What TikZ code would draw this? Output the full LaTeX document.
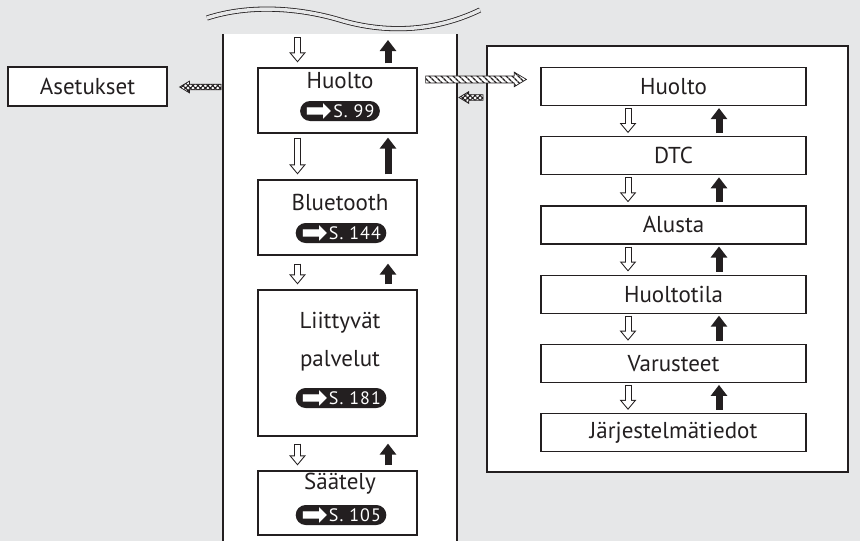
\documentclass[tikz,border=0pt]{standalone}
\usepackage{fontspec}
\setmainfont{PT Sans}
\newfontfamily\symfont{DejaVu Sans}
\newfontfamily\pillfont{PT Sans}[LetterSpace=6]
\usetikzlibrary{arrows.meta,calc,positioning,patterns.meta,shapes.misc}
\definecolor{bggray}{HTML}{E6E7E8}
\definecolor{ink}{HTML}{231F20}
\newcommand{\pg}[1]{\smash{\raisebox{-4pt}{\symfont\fontsize{32}{32}\selectfont ➡}}\kern1pt #1}
\newcommand{\hatcharrow}[4]{% style, from, to, half shaft
  \draw[draw=ink, line width=0.7pt, fill=white, postaction={#1}]
    let \p1=(#2), \p2=(#3), \n1={3.5*#4*sign(\x2-\x1)}, \n2={2.1*#4} in
    (\x1,{\y1+#4pt}) -- ({\x2-\n1},{\y1+#4pt}) -- ({\x2-\n1},{\y1+\n2}) -- (\x2,\y1)
    -- ({\x2-\n1},{\y1-\n2}) -- ({\x2-\n1},{\y1-#4pt}) -- (\x1,{\y1-#4pt}) -- cycle;}

\begin{document}
\begin{tikzpicture}[x=1pt,y=-1pt,
  box/.style={draw=ink, fill=white, line width=1.2pt, text=ink, font=\fontsize{23}{27}\selectfont},
  cbox/.style={box, minimum width=159pt},
  rbox/.style={box, minimum width=265pt, minimum height=38pt, inner sep=0pt},
  ttl/.style={text=ink, font=\fontsize{23}{38}\selectfont, inner sep=0pt, align=center},
  pill/.style={rounded rectangle, fill=ink, text=white, font=\pillfont\fontsize{18}{20}\selectfont,
    minimum height=20pt, inner xsep=3pt, inner ysep=0pt},
  panel/.style={draw=ink, line width=1.2pt},
  wave/.style={draw=ink, line width=0.8pt, double=bggray, double distance=3.5pt},
  dnarr/.style={draw=ink, line width=7pt, -{Triangle[width=16pt,length=10pt]},
    postaction={draw=white, line width=5pt, shorten <=1pt, shorten >=1.6pt,
      -{Triangle[width=11.8pt,length=7.4pt]}}},
  uparr/.style={draw=ink, line width=7pt, -{Triangle[width=16pt,length=11pt]}},
  hatchA/.style={pattern={Lines[angle=-45,distance=4pt,line width=1.6pt]}, pattern color=ink},
  hatchB/.style={pattern={Hatch[angle=45,distance=3.5pt,line width=1.1pt]}, pattern color=ink},
  node distance=30pt]
\fill[bggray] (0,0) rectangle (860,541);
\useasboundingbox (0,0) rectangle (860,541);
% middle column
\fill[white] (223,34) rectangle (457,541);
\draw[panel] (223,34) -- (223,541) (457,34) -- (457,541);
\draw[wave] (207,18) .. controls (250,4) and (300,8) .. (340,20)
  .. controls (380,32) and (430,34) .. (480,10);
\coordinate (top) at (337.5,37);
\node[cbox, minimum height=65pt] (hu) at (337.5,100.5) {};
\node[ttl] (huT) at (340,81) {Huolto};
\node[pill] (huP) at (340,111) {\pg{S. 99}};
\node[cbox, minimum height=75pt] (bt) at (337.5,217.5) {};
\node[ttl] (btT) at (340,202) {Bluetooth};
\node[pill] (btP) at (341,233) {\pg{S. 144}};
\node[cbox, minimum height=146pt] (lp) at (337.5,363) {};
\node[ttl] (lpT) at (340,342) {Liittyvät\\palvelut};
\node[pill] (lpP) at (341,398) {\pg{S. 181}};
\node[cbox, minimum height=64pt] (sa) at (337.5,503) {};
\node[ttl] (saT) at (340,484) {Säätely};
\node[pill] (saP) at (341,515) {\pg{S. 105}};
\draw[dnarr] ($(top)+(-40,0)$) -- ($(hu.north)+(-40,-5)$);
\draw[uparr] ($(hu.north)+(50.5,-4)$) -- ($(top)+(50.5,3)$);
\foreach \a/\b/\g in {hu/bt/4,bt/lp/8,lp/sa/7}{
  \draw[dnarr] ($(\a.south)+(-40,\g)$) -- ($(\b.north)+(-40,-5)$);
  \draw[uparr] ($(\b.north)+(50.5,-5)$) -- ($(\a.south)+(50.5,\g)$);
}
% left
\node[box, minimum width=159pt, minimum height=39pt] (set) at (87.5,86.5) {Asetukset};
\coordinate (setS) at (221,87);
\hatcharrow{hatchB}{setS}{$(set.east)+(12,0)$}{2.8}
% right column
\node[draw=ink, fill=white, line width=1.2pt, minimum width=361pt, minimum height=426pt] (rp) at (667.5,259) {};
\node[rbox] (r1) at (673.5,86.5) {Huolto};
\node[rbox, below=of r1] (r2) {DTC};
\node[rbox, below=of r2] (r3) {Alusta};
\node[rbox, below=of r3] (r4) {Huoltotila};
\node[rbox, below=of r4] (r5) {Varusteet};
\node[rbox, below=of r5] (r6) {Järjestelmätiedot};
\foreach \a/\b in {r1/r2,r2/r3,r3/r4,r4/r5,r5/r6}{
  \draw[dnarr] ($(\a.south)+(-45.5,2)$) -- ($(\b.north)+(-45.5,-3)$);
  \draw[uparr] ($(\b.north)+(45.5,-3)$) -- ($(\a.south)+(45.5,2)$);
}
\hatcharrow{hatchA}{$(hu.north east)+(8,12)$}{$(r1.west)+(-14,-6.5)$}{3.5}
\coordinate (retS) at (483,97.5);
\coordinate (retE) at (459,97.5);
\hatcharrow{hatchB}{retS}{retE}{2.8}
\end{tikzpicture}
\end{document}
